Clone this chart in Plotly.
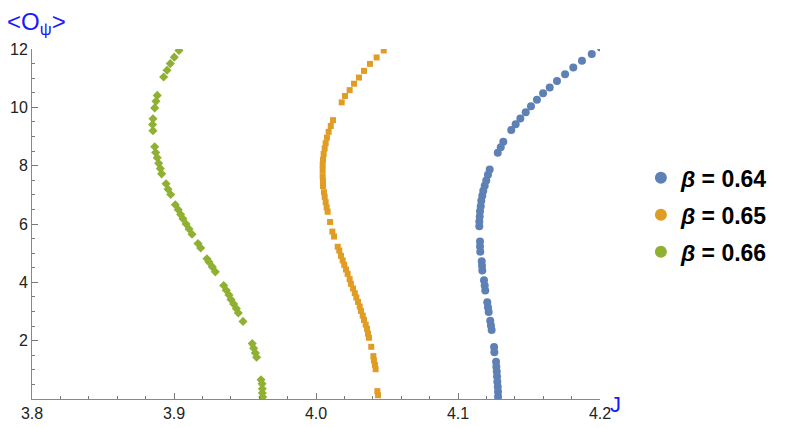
import plotly.graph_objects as go

# beta = 0.64 (blue circles)
j_064 = [4.2005, 4.1942, 4.1873, 4.1812, 4.1754, 4.1697, 4.1646, 4.1599, 4.1556, 4.1514,
         4.1477, 4.1439, 4.1406, 4.1375, 4.1319, 4.1301, 4.1280, 4.1223, 4.1211, 4.1199,
         4.1188, 4.1178, 4.1171, 4.1164, 4.1160, 4.1155, 4.1153, 4.1150, 4.1150, 4.1155,
         4.1155, 4.1157, 4.1167, 4.1169, 4.1171, 4.1183, 4.1188, 4.1192, 4.1206, 4.1211,
         4.1216, 4.1227, 4.1232, 4.1237, 4.1254, 4.1256, 4.1268, 4.1270, 4.1273, 4.1275,
         4.1277, 4.1280, 4.1282, 4.1282]
o_064 = [12.05, 11.83, 11.60, 11.37, 11.13, 10.90, 10.68, 10.48, 10.26, 10.04,
         9.83, 9.62, 9.42, 9.22, 8.82, 8.63, 8.44, 7.87, 7.69, 7.49,
         7.31, 7.14, 6.97, 6.80, 6.61, 6.44, 6.26, 6.09, 5.92, 5.40,
         5.23, 5.05, 4.72, 4.57, 4.41, 4.07, 3.89, 3.72, 3.32, 3.15,
         2.98, 2.68, 2.52, 2.37, 1.78, 1.60, 1.28, 1.11, 0.94, 0.77,
         0.59, 0.42, 0.25, 0.08]

# beta = 0.65 (orange squares)
j_065 = [4.0477, 4.0427, 4.0380, 4.0338, 4.0303, 4.0268, 4.0237, 4.0204, 4.0181, 4.0120,
         4.0104, 4.0089, 4.0077, 4.0068, 4.0061, 4.0054, 4.0049, 4.0047, 4.0047, 4.0047,
         4.0049, 4.0049, 4.0056, 4.0061, 4.0068, 4.0075, 4.0082, 4.0099, 4.0115, 4.0127,
         4.0153, 4.0164, 4.0176, 4.0188, 4.0199, 4.0211, 4.0223, 4.0237, 4.0246, 4.0261,
         4.0273, 4.0284, 4.0296, 4.0308, 4.0317, 4.0329, 4.0338, 4.0350, 4.0359, 4.0366,
         4.0373, 4.0389, 4.0404, 4.0408, 4.0415, 4.0420, 4.0432, 4.0437]
o_065 = [11.95, 11.71, 11.49, 11.25, 11.02, 10.81, 10.59, 10.39, 10.17, 9.56,
         9.36, 9.16, 8.96, 8.77, 8.59, 8.40, 8.20, 8.02, 7.84, 7.64,
         7.47, 7.30, 7.09, 6.93, 6.75, 6.57, 6.42, 6.07, 5.74, 5.57,
         5.22, 5.09, 4.91, 4.75, 4.60, 4.44, 4.29, 4.11, 3.95, 3.79,
         3.63, 3.48, 3.33, 3.17, 3.02, 2.86, 2.71, 2.55, 2.41, 2.24,
         2.10, 1.79, 1.47, 1.32, 1.17, 1.02, 0.27, 0.13]

# beta = 0.66 (green diamonds)
j_066 = [3.9035, 3.9002, 3.8974, 3.8951, 3.8927, 3.8882, 3.8873, 3.8864, 3.8852, 3.8849,
         3.8852, 3.8864, 3.8871, 3.8882, 3.8892, 3.8904, 3.8913, 3.8944, 3.8958, 3.8977,
         3.9009, 3.9030, 3.9047, 3.9063, 3.9085, 3.9106, 3.9127, 3.9169, 3.9188, 3.9232,
         3.9246, 3.9270, 3.9291, 3.9350, 3.9368, 3.9387, 3.9401, 3.9420, 3.9439, 3.9453,
         3.9486, 3.9551, 3.9561, 3.9573, 3.9582, 3.9613, 3.9620, 3.9622, 3.9622, 3.9625]
o_066 = [11.95, 11.72, 11.50, 11.27, 11.04, 10.41, 10.21, 9.98, 9.61, 9.41,
         9.20, 8.65, 8.45, 8.27, 8.08, 7.90, 7.72, 7.38, 7.19, 7.01,
         6.66, 6.49, 6.33, 6.18, 6.00, 5.83, 5.65, 5.33, 5.18, 4.81,
         4.70, 4.53, 4.36, 3.89, 3.73, 3.57, 3.41, 3.26, 3.10, 2.95,
         2.66, 1.90, 1.74, 1.58, 1.43, 0.66, 0.52, 0.35, 0.21, 0.07]

names = ["<b><i>β</i> = 0.64</b>", "<b><i>β</i> = 0.65</b>", "<b><i>β</i> = 0.66</b>"]
colors = ["#5E81B5", "#E19C24", "#8FB032"]
x_ticks = [3.8, 3.9, 4.0, 4.1, 4.2]
y_ticks = [2, 4, 6, 8, 10, 12]

fig = go.Figure()
series = [(j_064, o_064, "circle", 8), (j_065, o_065, "square", 6), (j_066, o_066, "diamond", 7)]
for (xs, ys, sym, sz), c in zip(series, colors):
    fig.add_trace(go.Scatter(x=xs, y=ys, mode="markers", showlegend=False,
                             marker=dict(symbol=sym, size=sz, color=c)))
# legend entries (all shown as dots, like the original)
for i, (name, c) in enumerate(zip(names, colors)):
    fig.add_trace(go.Scatter(x=[None], y=[None], mode="markers", name=name, legendgroup=f"g{i}",
                             marker=dict(symbol="circle", size=8, color=c)))

axis_font = dict(family="Liberation Sans, Arial", size=16, color="#222")
fig.update_xaxes(range=[3.8, 4.2], tickvals=x_ticks, ticktext=[f"{v:.1f}" for v in x_ticks],
                 ticks="inside", ticklen=6, tickcolor="#777", showline=True, linecolor="#888",
                 showgrid=False, zeroline=False, tickfont=axis_font, automargin=False,
                 minor=dict(dtick=0.02, tick0=3.8, ticks="inside", ticklen=3, tickcolor="#777"))
fig.update_yaxes(range=[0, 12], tickvals=y_ticks, ticktext=[str(v) for v in y_ticks],
                 ticks="inside", ticklen=6, tickcolor="#777", showline=True, linecolor="#888",
                 showgrid=False, zeroline=False, tickfont=axis_font, automargin=False,
                 minor=dict(dtick=0.5, tick0=0, ticks="inside", ticklen=3, tickcolor="#777"))

fig.add_annotation(text="&lt;O<sub>ψ</sub>&gt;", xref="paper", yref="paper", x=-0.048, y=1.072,
                   xanchor="left", yanchor="middle", showarrow=False,
                   font=dict(family="Liberation Sans, Arial", size=24, color="#1a1aff"))
fig.add_annotation(text="J", xref="paper", yref="paper", x=1.014, y=-0.017,
                   xanchor="left", yanchor="middle", showarrow=False,
                   font=dict(family="Liberation Sans, Arial", size=22, color="#1a1aff"))

# page body has an 8px margin, so the figure is a bit smaller than the window
fig.update_layout(
    width=781, height=420,
    margin=dict(l=24, r=189, t=41, b=29),
    plot_bgcolor="white", paper_bgcolor="white",
    legend=dict(x=1.072, y=0.526, xanchor="left", yanchor="middle", tracegroupgap=4,
                font=dict(family="Liberation Sans, Arial", size=23, color="black"),
                itemsizing="constant"),
)
fig.write_html("out.html")
